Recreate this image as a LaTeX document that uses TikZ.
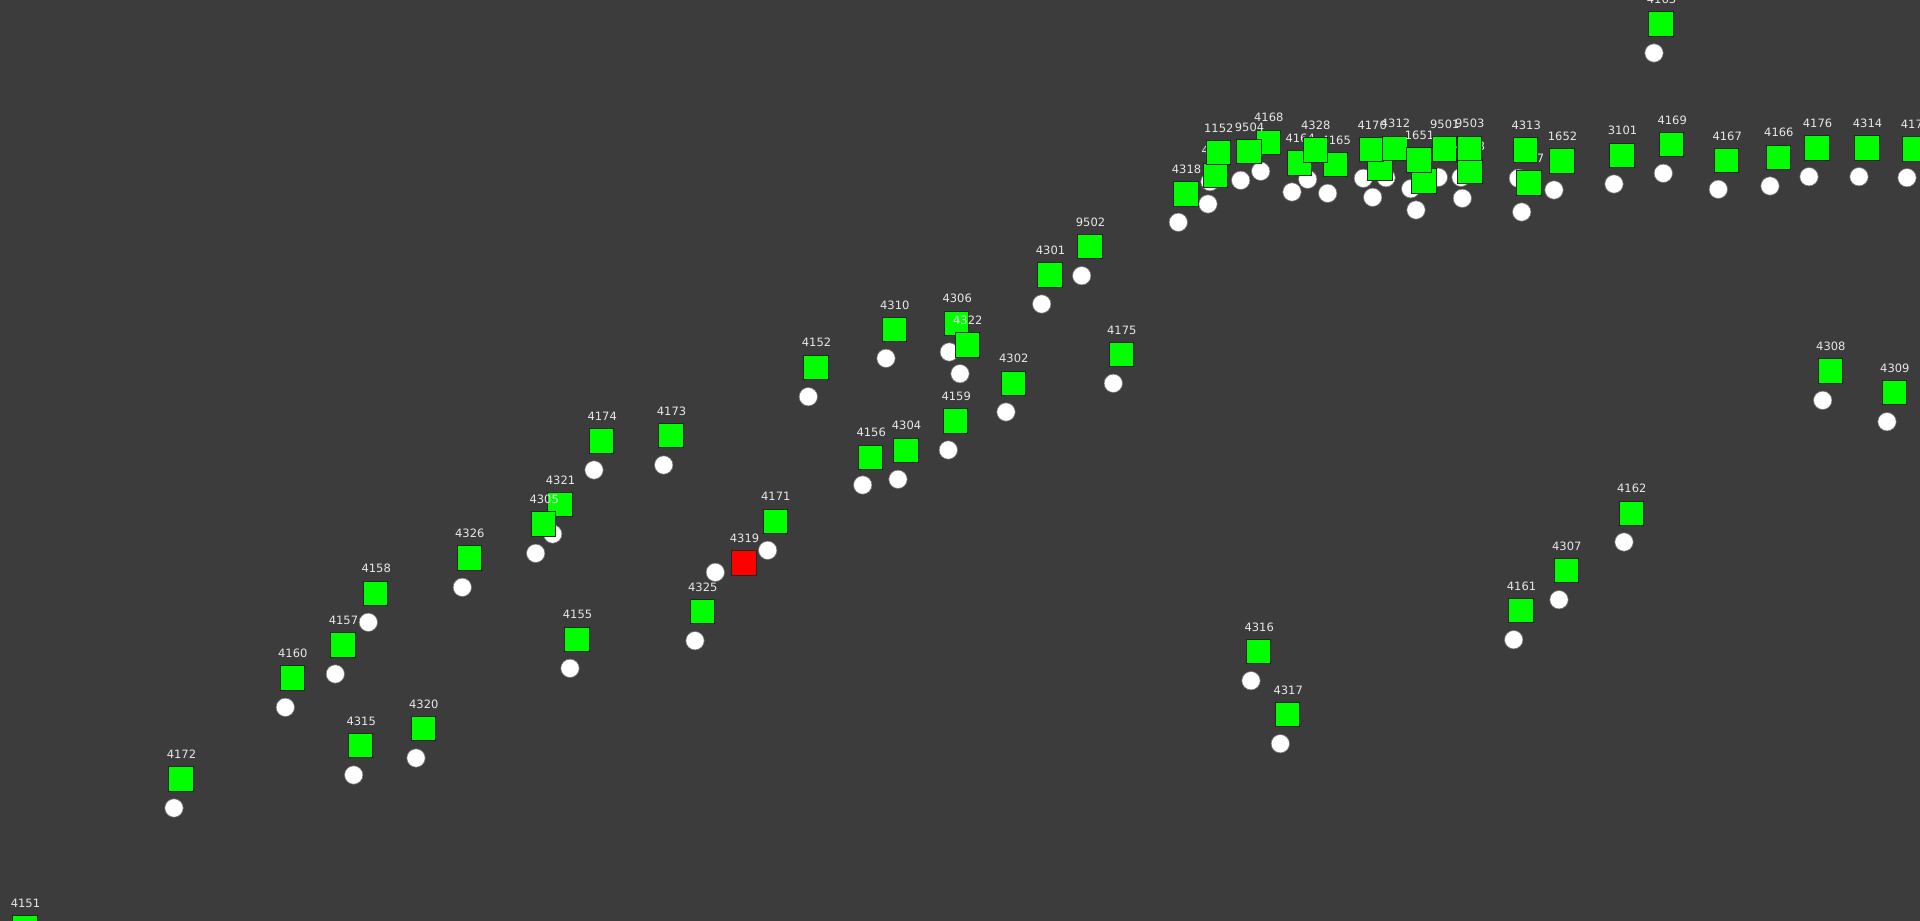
\documentclass[tikz,border=0pt]{standalone}
\usepackage{fontspec}
\setmainfont{DejaVu Sans}
\definecolor{bg}{HTML}{3C3C3C}
\definecolor{vgreen}{HTML}{00FF00}
\definecolor{vred}{HTML}{FF0000}
\definecolor{lbl}{HTML}{E8E8E8}
\definecolor{edge}{HTML}{1E2A1E}
\tikzset{
  veh/.style={draw=edge, line width=0.9pt, minimum size=24.4pt, inner sep=0pt},
  marker/.style={circle, draw=black!55, line width=0.6pt, fill=white, minimum size=18.4pt, inner sep=0pt},
  lab/.style={text=lbl, font=\fontsize{11.5}{13}\selectfont, inner sep=0pt}
}
\begin{document}
\begin{tikzpicture}[x=1pt,y=-1pt]
\fill[bg] (0,0) rectangle (1920,921);
\useasboundingbox (0,0) rectangle (1920,921);
\clip (0,0) rectangle (1920,921);
% white markers
\foreach \x/\y [count=\i] in {174/808, 285.3/707.3, 335.3/674, 368.3/622.3, 353.7/775, 416/758,
  462.3/587.3, 552.7/534, 535.7/553.3, 570/668.3, 594/470, 663.7/465, 695/640.7, 715.3/572.3,
  767.7/550.3, 808.3/396.7, 862.7/485, 898/479.3, 886/358.3, 949.3/352, 960/373.7, 948.3/450,
  1006/412, 1041.7/304, 1081.7/275.7, 1113.3/383.3, 1178.3/222.3, 1208/204, 1210/181.7,
  1240.7/180.3, 1260.7/171.3, 1292/192, 1307.7/179.3, 1327.7/193.3, 1363.3/178.3, 1372.7/197.3,
  1386/177.7, 1410.7/188.7, 1416/210, 1438.3/177.3, 1461/177.3, 1462.3/198.3, 1518.3/178.3,
  1521.7/212, 1554/190, 1614/184, 1663.3/173.3, 1718.3/189.3, 1770/186, 1809/176.7, 1859/176.7,
  1907/177.7, 1654/53, 1251/680.7, 1280.3/743.7, 1513.7/639.7, 1559/599.7, 1624/542,
  1822.7/400.3, 1887/421.7}
  \node[marker] (m\i) at (\x,\y) {};
% vehicles with labels
\foreach \x/\y/\t/\c [count=\i] in {
  25/927.5/4151/vgreen, 181/779/4172/vgreen, 292.3/678/4160/vgreen, 343/645/4157/vgreen,
  375.7/593.3/4158/vgreen, 360.7/745.7/4315/vgreen, 423.3/728.7/4320/vgreen, 469.3/558/4326/vgreen,
  560/504.7/4321/vgreen, 543.7/524/4305/vgreen, 577/639.3/4155/vgreen, 601.7/441/4174/vgreen,
  671/435.7/4173/vgreen, 702.3/611.7/4325/vgreen, 744/563/4319/vred, 775.3/521.3/4171/vgreen,
  816/367.3/4152/vgreen, 870.7/457.3/4156/vgreen, 906/450.3/4304/vgreen, 894.3/329.7/4310/vgreen,
  956.7/323.3/4306/vgreen, 967.3/345/4322/vgreen, 955.7/421/4159/vgreen, 1013.3/383.3/4302/vgreen,
  1050/275/4301/vgreen, 1090/246.7/9502/vgreen, 1121.3/354.7/4175/vgreen, 1186/194/4318/vgreen,
  1215.7/175.3/4311/vgreen, 1218.3/152.7/1152/vgreen, 1268.3/142.3/4168/vgreen, 1249/151.7/9504/vgreen,
  1299.7/163/4164/vgreen, 1335.7/164.7/4165/vgreen, 1315.3/150/4328/vgreen, 1380/168.7//vgreen,
  1371.7/149.7/4170/vgreen, 1395/148.3/4312/vgreen, 1424/181//vgreen, 1419/160/1651/vgreen,
  1444.3/149/9501/vgreen, 1470/171/4303/vgreen, 1469.3/148.3/9503/vgreen, 1529/183/4327/vgreen,
  1525.7/150/4313/vgreen, 1562/161/1652/vgreen, 1622/155.3/3101/vgreen, 1671.7/144.7/4169/vgreen,
  1661/24/4163/vgreen, 1726.7/160.7/4167/vgreen, 1778.3/157.3/4166/vgreen, 1817/148/4176/vgreen,
  1867/148/4314/vgreen, 1915/149/4177/vgreen, 1258.7/651.7/4316/vgreen, 1287.7/714.7/4317/vgreen,
  1521/610.7/4161/vgreen, 1566.3/570.7/4307/vgreen, 1631.3/513.3/4162/vgreen,
  1830.3/371/4308/vgreen, 1894.3/392.7/4309/vgreen}
{
  \node[veh, fill=\c] (v\i) at (\x,\y) {};
  \node[lab] (l\i) at (\x+0.5,{\y-24.5}) {\t};
}
\end{tikzpicture}
\end{document}
